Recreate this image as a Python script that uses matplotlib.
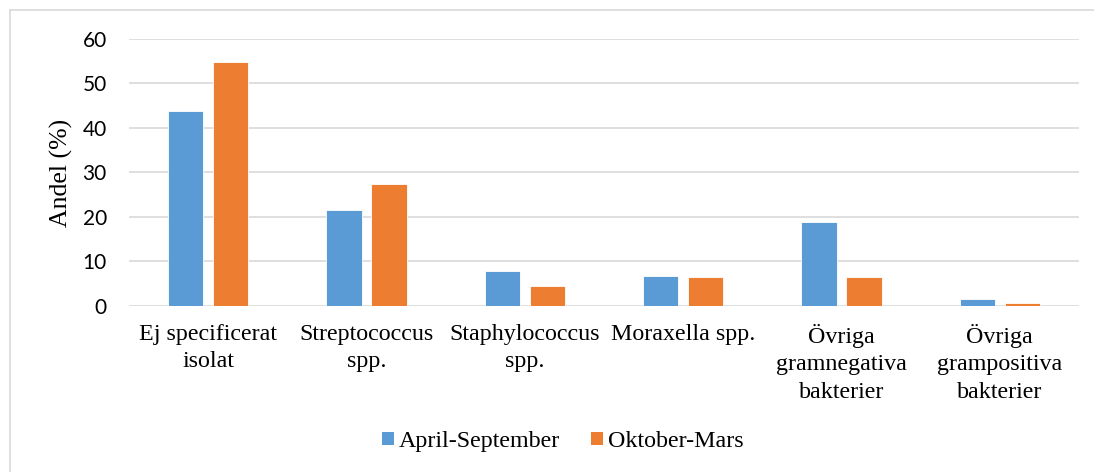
#!/usr/bin/env python3

import numpy as np
import matplotlib
matplotlib.use("Agg")
import matplotlib.pyplot as plt
from matplotlib.lines import Line2D

# ...Data
categories = [
    "Ej specificerat\nisolat",
    "Streptococcus\nspp.",
    "Staphylococcus\nspp.",
    "Moraxella spp.",
    "Övriga\ngramnegativa\nbakterier",
    "Övriga\ngrampositiva\nbakterier",
]
series_names = ["April-September", "Oktober-Mars"]
apr_sep = [43.8, 21.4, 7.7, 6.7, 18.8, 1.5]
okt_mar = [54.8, 27.3, 4.3, 6.4, 6.4, 0.6]
y_ticks = [0, 10, 20, 30, 40, 50, 60]

colors = ["#5B9BD5", "#ED7D31"]
grid_color = "#D9D9D9"
serif = "Liberation Serif"


def main():
    fig = plt.figure(figsize=(10.94, 4.72), dpi=100)
    ax = fig.add_axes([129 / 1094, 1 - 305.5 / 472, 950 / 1094, 266.6 / 472])

    x = np.arange(len(categories))
    width = 0.222
    offset = 0.142

    ax.bar(x - offset, apr_sep, width, color=colors[0], edgecolor="white",
           linewidth=0.6, label=series_names[0], zorder=3)
    ax.bar(x + offset, okt_mar, width, color=colors[1], edgecolor="white",
           linewidth=0.6, label=series_names[1], zorder=3)

    ax.set_xlim(-0.5, len(categories) - 0.5)
    ax.set_ylim(0, 60)
    ax.set_yticks(y_ticks)
    ax.set_yticklabels([str(t) for t in y_ticks], fontname="Lato", fontsize=15)
    ax.set_xticks(x)
    ax.set_xticklabels(categories, fontname=serif, fontsize=17.3, linespacing=1.42)

    ax.tick_params(axis="y", length=0, pad=16)
    ax.tick_params(axis="x", length=0, pad=13)
    ax.grid(axis="y", color=grid_color, linewidth=1.2, zorder=0)
    for side in ax.spines.values():
        side.set_visible(False)

    # ...Y-axis title
    fig.text(61.5 / 1094, 1 - 173 / 472, "Andel (%)", rotation=90,
             ha="center", va="center", fontname=serif, fontsize=18.5)

    # ...Legend below the plot
    leg = fig.legend(
        loc="center",
        bbox_to_anchor=(563 / 1094, 1 - 441.5 / 472),
        ncol=2,
        frameon=False,
        prop={"family": serif, "size": 17.3},
        handlelength=0.5,
        handleheight=0.5,
        handletextpad=0.2,
        columnspacing=1.3,
    )
    for h in leg.legend_handles:
        h.set_edgecolor("none")

    # ...Light border of the chart area
    fig.add_artist(Line2D([9.8 / 1094, 9.8 / 1094], [-0.01, 1 - 10 / 472],
                          transform=fig.transFigure, color=grid_color, lw=1.2))
    fig.add_artist(Line2D([9.8 / 1094, 1.01], [1 - 10 / 472, 1 - 10 / 472],
                          transform=fig.transFigure, color=grid_color, lw=1.2))

    fig.savefig("out.png", dpi=100)


if __name__ == "__main__":
    main()
